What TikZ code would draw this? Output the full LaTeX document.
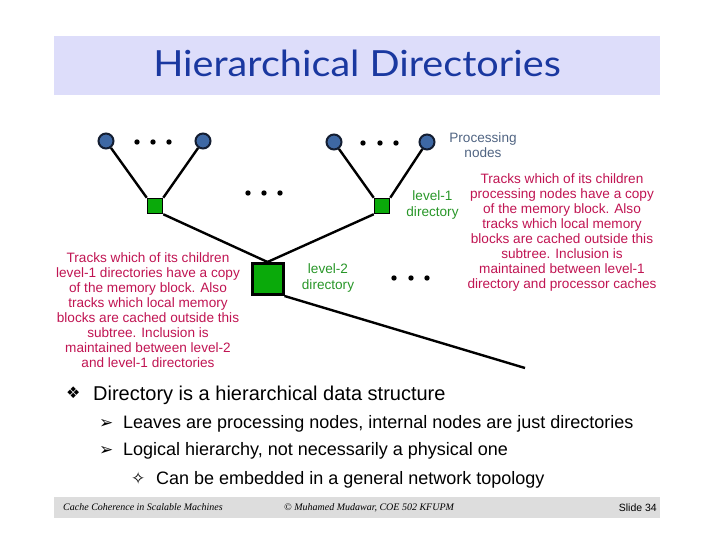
\documentclass[tikz,border=0pt]{standalone}
\usepackage{fontspec}
\setmainfont{Liberation Sans}
\newfontfamily\dejavu{DejaVu Sans}
\newfontfamily\titlefont{Lato}
\newfontfamily\footserif{Liberation Serif}
\usetikzlibrary{backgrounds}
\definecolor{titleband}{RGB}{221,221,250}
\definecolor{titleblue}{RGB}{26,56,160}
\definecolor{footband}{RGB}{221,221,221}
\definecolor{magtext}{RGB}{192,20,82}
\definecolor{greentext}{RGB}{40,150,40}
\definecolor{proctext}{RGB}{80,100,130}
\definecolor{procfill}{RGB}{62,104,164}
\definecolor{procline}{RGB}{20,30,50}
\definecolor{dirfill}{RGB}{10,170,10}
\tikzset{
  x=1pt, y=-1pt,
  proc/.style={circle, draw=procline, line width=2pt, fill=procfill, minimum size=15pt, inner sep=0pt},
  dirone/.style={rectangle, draw=black, line width=1.5pt, fill=dirfill, minimum size=15pt, inner sep=0pt},
  dirtwo/.style={rectangle, draw=black, line width=3pt, fill=dirfill, minimum size=31pt, inner sep=0pt},
  tree/.style={line width=2.4pt, black},
  dotmark/.style={fill=black},
  smalltxt/.style={align=center, inner sep=0pt, font=\fontsize{13.6}{15.1}\selectfont},
  para/.style={smalltxt, text=magtext},
  greenlbl/.style={smalltxt, text=greentext},
  bl/.style={anchor=base west, inner sep=0pt},
  footit/.style={anchor=west, inner sep=0pt, font=\footserif\itshape\fontsize{10}{12}\selectfont},
}
\begin{document}
\begin{tikzpicture}
\useasboundingbox (0,0) rectangle (720,540);
% title band
\fill[titleband] (54,36) rectangle (660,95);
\node[text=titleblue, font=\titlefont\fontsize{36}{40}\selectfont] (title) at (357,63) {\scalebox{1.1}[1]{Hierarchical Directories}};
% processing nodes
\node[proc] (p1) at (106,141) {};
\node[proc] (p2) at (203,141) {};
\node[proc] (p3) at (334,142) {};
\node[proc] (p4) at (427,142) {};
% directories
\node[dirone] (d1) at (155,206) {};
\node[dirone] (d2) at (382,206) {};
\node[dirtwo] (L2) at (267.5,279) {};
\coordinate (tail) at (525,368);
\begin{scope}[on background layer]
\draw[tree] (p1) -- (d1.north west);
\draw[tree] (p2) -- (d1.north east);
\draw[tree] (p3) -- (d2.north west);
\draw[tree] (p4) -- (d2.north east);
\draw[tree] (d1.south east) -- (L2.north);
\draw[tree] (d2.south west) -- (L2.north);
\draw[tree] (L2.south east) -- (tail);
\end{scope}
% ellipsis dots
\foreach \x in {137,153,169} \fill[dotmark] (\x,142) circle (2.7);
\foreach \x in {248,264,280} \fill[dotmark] (\x,193) circle (2.7);
\foreach \x in {363,380,396} \fill[dotmark] (\x,143) circle (2.7);
\foreach \x in {394,411,427} \fill[dotmark] (\x,278) circle (2.7);
% labels
\node[smalltxt, text=proctext] (plbl) at (483,145) {Processing\\nodes};
\node[greenlbl] (l1lbl) at (432.5,205) {level-1\\directory};
\node[greenlbl] (l2lbl) at (328,278) {level-2\\directory};
\node[para] (rpara) at (562,232.5) {Tracks which of its children\\processing nodes have a copy\\of the memory block. Also\\tracks which local memory\\blocks are cached outside this\\subtree. Inclusion is\\maintained between level-1\\directory and processor caches};
\node[para] (lpara) at (148,310) {Tracks which of its children\\level-1 directories have a copy\\of the memory block. Also\\tracks which local memory\\blocks are cached outside this\\subtree. Inclusion is\\maintained between level-2\\and level-1 directories};
% bullets
\node[bl, font=\dejavu\fontsize{16}{20}\selectfont] (b1) at (66,398.5) {❖};
\node[bl, font=\fontsize{20}{24}\selectfont] (t1) at (93,400) {Directory is a hierarchical data structure};
\node[bl, font=\dejavu\fontsize{17}{20}\selectfont] (b2) at (99,428) {➢};
\node[bl, font=\fontsize{18}{22}\selectfont] (t2) at (123,428.5) {Leaves are processing nodes, internal nodes are just directories};
\node[bl, font=\dejavu\fontsize{17}{20}\selectfont] (b3) at (99,455) {➢};
\node[bl, font=\fontsize{18}{22}\selectfont] (t3) at (123,455.5) {Logical hierarchy, not necessarily a physical one};
\node[bl, font=\dejavu\fontsize{17}{20}\selectfont] (b4) at (131,484) {✧};
\node[bl, font=\fontsize{18}{22}\selectfont] (t4) at (156,484.5) {Can be embedded in a general network topology};
% footer
\fill[footband] (54,497) rectangle (660,518);
\node[footit] (f1) at (63,507.5) {Cache Coherence in Scalable Machines};
\node[footit] (f2) at (284,507.5) {© Muhamed Mudawar, COE 502 KFUPM};
\node[anchor=east, inner sep=0pt, font=\fontsize{10.5}{12}\selectfont] (f3) at (657,507.5) {Slide 34};
\end{tikzpicture}
\end{document}
